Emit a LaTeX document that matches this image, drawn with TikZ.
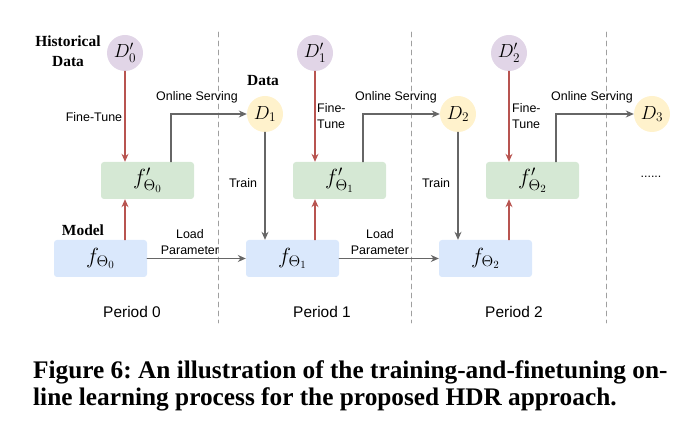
\RequirePackage{fix-cm}
\documentclass[tikz,border=0pt]{standalone}
\usepackage{fontspec}
\setmainfont{Liberation Serif}
\setsansfont{Liberation Sans}
\usepackage{tikz}
\usetikzlibrary{arrows.meta,calc}
\usepackage{xcolor}
\definecolor{histfill}{HTML}{E1D5E7}
\definecolor{datafill}{HTML}{FFF2CC}
\definecolor{tunefill}{HTML}{D5E8D4}
\definecolor{modelfill}{HTML}{DAE8FC}
\definecolor{tunered}{HTML}{B85450}
\definecolor{flowgray}{HTML}{666666}
\frenchspacing

\begin{document}
\begin{tikzpicture}[x=1bp,y=-1bp,>={Stealth[length=8bp,width=7bp]},line cap=round,
  lbl/.style={font=\sffamily\fontsize{12.5}{16}\selectfont,align=center,inner sep=0pt},
  bold/.style={font=\rmfamily\bfseries\fontsize{15.5}{20}\selectfont,align=center,inner sep=0pt},
  period/.style={font=\sffamily\fontsize{15.5}{18}\selectfont,inner sep=0pt},
  histnode/.style={font=\fontsize{19}{21}\selectfont,inner sep=0pt,circle,fill=histfill,minimum size=36bp},
  datanode/.style={font=\fontsize{19}{21}\selectfont,inner sep=0pt,circle,fill=datafill,minimum size=36bp},
  tunebox/.style={font=\fontsize{22}{24}\selectfont,inner sep=0pt,rectangle,rounded corners=3bp,fill=tunefill,minimum width=93bp,minimum height=37bp},
  modelbox/.style={font=\fontsize{22}{24}\selectfont,inner sep=0pt,rectangle,rounded corners=3bp,fill=modelfill,minimum width=93bp,minimum height=37bp},
  tunearr/.style={->,tunered,line width=1.1bp},
  flowarr/.style={->,flowgray,line width=1.1bp},
  sep/.style={gray!75,dashed,dash pattern=on 5bp off 4bp,line width=0.9bp}]
\useasboundingbox (0,0) rectangle (700,436);
% period separators
\draw[sep] (218,32) -- (218,323);
\draw[sep] (411,32) -- (411,323);
\draw[sep] (606,32) -- (606,323);
% models
\node[modelbox] (f0) at (100.5,258.5) {$f_{\Theta_0}$};
\node[modelbox] (f1) at (292.5,258.5) {$f_{\Theta_1}$};
\node[modelbox] (f2) at (485.5,258.5) {$f_{\Theta_2}$};
\node[tunebox] (fp0) at (147.5,180.5) {$f'_{\Theta_0}$};
\node[tunebox] (fp1) at (339.5,180.5) {$f'_{\Theta_1}$};
\node[tunebox] (fp2) at (532.5,180.5) {$f'_{\Theta_2}$};
% data
\node[histnode] (Dp0) at (125,53) {$D'_0$};
\node[histnode] (Dp1) at (315,53) {$D'_1$};
\node[histnode] (Dp2) at (509,53) {$D'_2$};
\node[datanode] (D1) at (265,114) {$D_1$};
\node[datanode] (D2) at (458,114) {$D_2$};
\node[datanode] (D3) at (652,114) {$D_3$};
% fine-tune
\draw[tunearr] (Dp0) -- (Dp0 |- fp0.north);
\draw[tunearr] (Dp1) -- (Dp1 |- fp1.north);
\draw[tunearr] (Dp2) -- (Dp2 |- fp2.north);
\draw[tunearr] (f0.north -| Dp0) -- (fp0.south -| Dp0);
\draw[tunearr] (f1.north -| Dp1) -- (fp1.south -| Dp1);
\draw[tunearr] (f2.north -| Dp2) -- (fp2.south -| Dp2);
% online serving
\draw[flowarr] ($(fp0.north)+(23.5,0)$) |- (D1);
\draw[flowarr] ($(fp1.north)+(23.5,0)$) |- (D2);
\draw[flowarr] ($(fp2.north)+(23.5,0)$) |- (D3);
% train
\draw[flowarr] (D1) -- (D1 |- f1.north);
\draw[flowarr] (D2) -- (D2 |- f2.north);
% load parameter
\draw[flowarr] (f0) -- (f1);
\draw[flowarr] (f1) -- (f2);
% labels
\node[bold] (hist) at (68,51) {Historical\\Data};
\node[bold] (model) at (83,230) {Model};
\node[bold] (data) at (263,81) {Data};
\node[lbl] (ft0) at (94,117) {Fine-Tune};
\node[lbl,align=left,anchor=west] (ft1) at (317,116.5) {Fine-\\Tune};
\node[lbl,align=left,anchor=west] (ft2) at (512,116.5) {Fine-\\Tune};
\node[lbl] (os0) at (197,97) {Online Serving};
\node[lbl] (os1) at (396,97) {Online Serving};
\node[lbl] (os2) at (592,97) {Online Serving};
\node[lbl] (tr1) at (243,183) {Train};
\node[lbl] (tr2) at (436,183) {Train};
\node[lbl] (lp1) at (190,242) {Load\\Parameter};
\node[lbl] (lp2) at (380,242) {Load\\Parameter};
\node[lbl] (dots) at (651,177) {......};
\node[period] (per0) at (132,312) {Period 0};
\node[period] (per1) at (322,312) {Period 1};
\node[period] (per2) at (514,312) {Period 2};
% caption
\node[anchor=base west,inner sep=0pt,align=left,font=\rmfamily\bfseries\fontsize{25.4}{26.5}\selectfont] (cap) at (33,405)
  {Figure 6: An illustration of the training-and-finetuning on-\\line learning process for the proposed HDR approach.};
\end{tikzpicture}
\end{document}
